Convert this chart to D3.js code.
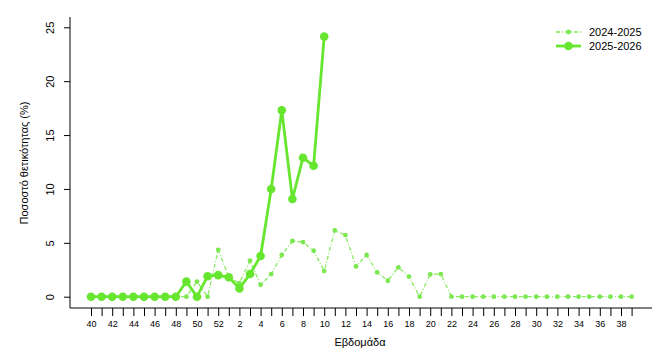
<!DOCTYPE html>
<html><head><meta charset="utf-8">
<script src="https://cdn.jsdelivr.net/npm/d3@7"></script>
<style>body{margin:0;background:#fff}svg{display:block;font-family:"Liberation Sans",Arial,sans-serif}</style>
</head><body><svg id="c" width="652" height="351"></svg>
<script>
const weeks = ["40","41","42","43","44","45","46","47","48","49","50","51","52","1","2","3","4","5","6","7","8","9","10","11","12","13","14","15","16","17","18","19","20","21","22","23","24","25","26","27","28","29","30","31","32","33","34","35","36","37","38","39"];
const s2024 = [0,0,0,0,0,0,0,0,0,0,1.4,0,4.35,1.8,1.25,3.35,1.1,2.1,3.87,5.17,5.07,4.27,2.38,6.15,5.72,2.81,3.87,2.25,1.48,2.73,1.86,0,2.07,2.1,0,0,0,0,0,0,0,0,0,0,0,0,0,0,0,0,0,0];
const s2025 = [0,0,0,0,0,0,0,0,0,1.4,0,1.9,2.0,1.8,0.77,2.1,3.77,9.99,17.3,9.06,12.9,12.15,24.15];
const yTicks = [0,5,10,15,20,25];
const seriesNames = ["2024-2025","2025-2026"];
const colSolid = "#66e62e", colDash = "#7be84f";

const svg = d3.select("#c");
const x = d3.scalePoint().domain(weeks).range([91, 631.6]);
const y = d3.scaleLinear().domain([0,25]).range([296.7, 27.3]);

// axes
const ax = svg.append("g").attr("transform","translate(0,308)");
ax.append("line").attr("x1",70).attr("x2",652).attr("y1",0).attr("y2",0).attr("stroke","#000");
ax.call(g => {
  const a = d3.axisBottom(x).tickSize(8).tickPadding(5)
    .tickFormat(d => (+d % 2 === 0) ? d : "");
  g.call(a);
  g.select(".domain").remove();
  g.selectAll("text").attr("font-size",9).attr("fill","#000").attr("font-family","Liberation Sans, Arial, sans-serif");
});

const ay = svg.append("g").attr("transform","translate(70,0)");
ay.call(d3.axisLeft(y).tickValues(yTicks).tickSize(6).tickPadding(0).tickFormat(d3.format("d")));
ay.select(".domain").remove();
ay.append("line").attr("x1",0).attr("x2",0).attr("y1",17).attr("y2",308).attr("stroke","#000");
ay.selectAll(".tick text").attr("font-size",11).attr("fill","#000")
  .attr("font-family","Liberation Sans, Arial, sans-serif")
  .attr("transform","translate(-20,0) rotate(-90)").attr("text-anchor","middle").attr("x",0).attr("dy","0.35em");

svg.append("text").attr("transform","translate(28,163) rotate(-90)").attr("text-anchor","middle")
  .attr("font-size",11).text("Ποσοστό θετικότητας (%)");
svg.append("text").attr("x",360).attr("y",346).attr("text-anchor","middle").attr("font-size",11).text("Εβδομάδα");

// series 2024-2025 dashed
const d1 = weeks.map((w,i)=>({w, v:s2024[i]}));
const d2 = s2025.map((v,i)=>({w:weeks[i], v}));
const line = d3.line().x(d=>x(d.w)).y(d=>y(d.v));
svg.append("path").datum(d1).attr("d",line).attr("fill","none").attr("stroke",colDash)
  .attr("stroke-width",1.3).attr("stroke-dasharray","4,2,1,2").attr("opacity",0.9);
svg.append("g").selectAll("circle").data(d1).join("circle")
  .attr("cx",d=>x(d.w)).attr("cy",d=>y(d.v)).attr("r",2.4).attr("fill",colDash);

svg.append("path").datum(d2).attr("d",line).attr("fill","none").attr("stroke",colSolid)
  .attr("stroke-width",2.8).attr("stroke-linejoin","round");
svg.append("g").selectAll("circle").data(d2).join("circle")
  .attr("cx",d=>x(d.w)).attr("cy",d=>y(d.v)).attr("r",4.3).attr("fill",colSolid);

// legend
const lg = svg.append("g");
lg.append("line").attr("x1",556).attr("x2",581).attr("y1",32).attr("y2",32).attr("stroke",colDash).attr("stroke-width",1.3).attr("stroke-dasharray","4,2,1,2");
lg.append("circle").attr("cx",568.5).attr("cy",32).attr("r",2.4).attr("fill",colDash);
lg.append("line").attr("x1",556).attr("x2",581).attr("y1",46).attr("y2",46).attr("stroke",colSolid).attr("stroke-width",2.8);
lg.append("circle").attr("cx",568.5).attr("cy",46).attr("r",4.3).attr("fill",colSolid);
lg.selectAll("text.l").data(seriesNames).join("text").attr("class","l")
  .attr("x",589).attr("y",(d,i)=>32+i*14).attr("dy","0.35em").attr("font-size",11).text(d=>d);
</script></body></html>
